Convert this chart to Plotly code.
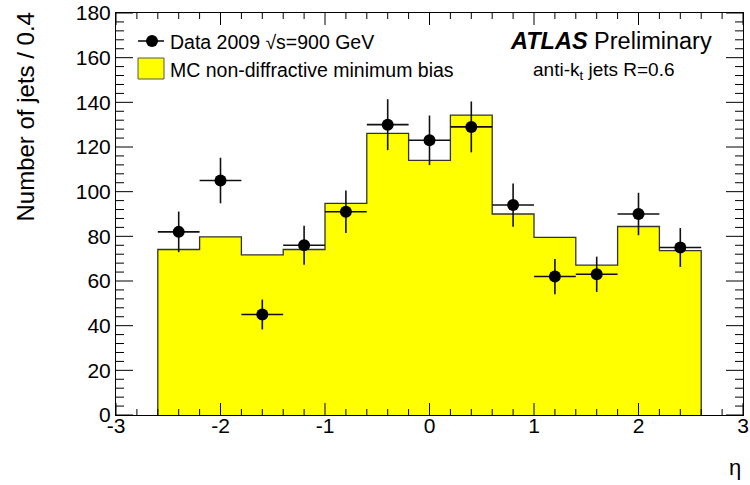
import plotly.graph_objects as go

# Jet pseudorapidity distribution, 13 bins of width 0.4 from -2.6 to 2.6
bin_edges = [-2.6, -2.2, -1.8, -1.4, -1.0, -0.6, -0.2, 0.2, 0.6, 1.0, 1.4, 1.8, 2.2, 2.6]
bin_centers = [-2.4, -2.0, -1.6, -1.2, -0.8, -0.4, 0.0, 0.4, 0.8, 1.2, 1.6, 2.0, 2.4]
mc_counts = [74.1, 79.8, 71.7, 74.1, 94.8, 126.1, 114.0, 134.3, 90.0, 79.5, 67.1, 84.4, 73.6]
data_counts = [82, 105, 45, 76, 91, 130, 123, 129, 94, 62, 63, 90, 75]
data_err = [9.1, 10.2, 6.7, 8.7, 9.5, 11.4, 11.1, 11.4, 9.7, 7.9, 7.9, 9.5, 8.7]
half_width = [0.2] * 13

x_tickvals = [-3, -2, -1, 0, 1, 2, 3]
x_ticktext = ["-3", "-2", "-1", "0", "1", "2", "3"]
y_tickvals = [0, 20, 40, 60, 80, 100, 120, 140, 160, 180]

FONT = "Liberation Sans, Arial, Helvetica, sans-serif"
YELLOW = "#ffff00"

fig = go.Figure()

# MC histogram drawn as a filled step outline
step_x = [bin_edges[0]] + bin_edges[:-1] + [bin_edges[-1], bin_edges[-1]]
step_y = [0] + mc_counts + [mc_counts[-1], 0]
fig.add_trace(go.Scatter(
    x=step_x, y=step_y, mode="lines", line_shape="hv",
    line=dict(color="#333333", width=1.3),
    fill="tozeroy", fillcolor=YELLOW,
    showlegend=False, hoverinfo="skip",
))

# Data points with statistical errors and bin-width horizontal bars
fig.add_trace(go.Scatter(
    x=bin_centers, y=data_counts, mode="markers",
    marker=dict(symbol="circle", size=12, color="black"),
    error_y=dict(type="data", array=data_err, color="#111111", thickness=1.6, width=0),
    error_x=dict(type="data", array=half_width, color="#111111", thickness=1.6, width=0),
    showlegend=False,
))

L, R, T, B = 116, 743, 13, 415
PW, PH = R - L, B - T

fig.update_layout(
    template="none",
    width=750, height=485,
    margin=dict(l=L, r=750 - R, t=T, b=485 - B),
    showlegend=False,
    xaxis=dict(
        range=[-3, 3], tickmode="array", tickvals=x_tickvals, ticktext=x_ticktext,
        ticks="", showline=True, linecolor="black", linewidth=1, mirror=True,
        showgrid=False, zeroline=False,
        tickfont=dict(family=FONT, size=21, color="black"),
        ticklabelstandoff=-8,
    ),
    yaxis=dict(
        range=[0, 180], tickmode="array", tickvals=y_tickvals,
        ticks="", showline=True, linecolor="black", linewidth=1, mirror=True,
        showgrid=False, zeroline=False,
        tickfont=dict(family=FONT, size=21, color="black"),
    ),
)

def px_to_paper(px, py):
    return (px - L) / PW, (B - py) / PH

def label(text, px, py, size, anchor, **kw):
    x, y = px_to_paper(px, py)
    return dict(text=text, x=x, y=y, xref="paper", yref="paper", xanchor=anchor,
                yanchor="middle", showarrow=False,
                font=dict(family=FONT, size=size, color="black"), **kw)

annotations = [
    dict(text="Number of jets / 0.4", textangle=-90, x=px_to_paper(25, 0)[0], y=px_to_paper(0, 11)[1],
         xref="paper", yref="paper", xanchor="center", yanchor="top", showarrow=False,
         font=dict(family=FONT, size=24, color="black")),
    label("η", 743, 467, 22, "right"),
    label("Data 2009 √s=900 GeV", 168, 42, 19.5, "left"),
    label("MC non-diffractive minimum bias", 168, 70, 19.5, "left"),
    label("<b><i>ATLAS</i></b> Preliminary", 714, 41, 23.5, "right"),
    label("anti-k<sub>t</sub> jets R=0.6", 677, 71, 19, "right"),
]

shapes = []
TICK = dict(color="black", width=1)

# Inside ticks on all four sides: x every 0.2 (major every 1), y every 4 (major every 20)
for i in range(31):
    v = -3 + 0.2 * i
    ln = (12 if i % 5 == 0 else 6) / PH
    shapes.append(dict(type="line", xref="x", yref="paper", x0=v, x1=v, y0=0, y1=ln, line=TICK))
    shapes.append(dict(type="line", xref="x", yref="paper", x0=v, x1=v, y0=1, y1=1 - ln, line=TICK))
for j in range(46):
    v = 4 * j
    ln = (17 if j % 5 == 0 else 8) / PW
    shapes.append(dict(type="line", xref="paper", yref="y", x0=0, x1=ln, y0=v, y1=v, line=TICK))
    shapes.append(dict(type="line", xref="paper", yref="y", x0=1, x1=1 - ln, y0=v, y1=v, line=TICK))

# Legend glyph: data marker with horizontal bar
x0, y0 = px_to_paper(138, 41)
x1, _ = px_to_paper(164, 41)
shapes.append(dict(type="line", xref="paper", yref="paper", x0=x0, x1=x1, y0=y0, y1=y0,
                   line=dict(color="#111111", width=1.6)))
cx, cy = px_to_paper(152, 41)
dx = 6 / PW
dy = 6 / PH
shapes.append(dict(type="circle", xref="paper", yref="paper", x0=cx - dx, x1=cx + dx,
                   y0=cy - dy, y1=cy + dy, fillcolor="black", line=dict(color="black", width=0)))
# Legend glyph: MC filled box
bx0, by0 = px_to_paper(138, 79)
bx1, by1 = px_to_paper(164, 58)
shapes.append(dict(type="rect", xref="paper", yref="paper", x0=bx0, x1=bx1, y0=by0, y1=by1,
                   fillcolor=YELLOW, line=dict(color="#555555", width=1)))

fig.update_layout(annotations=annotations, shapes=shapes)

fig.write_html("out.html")
